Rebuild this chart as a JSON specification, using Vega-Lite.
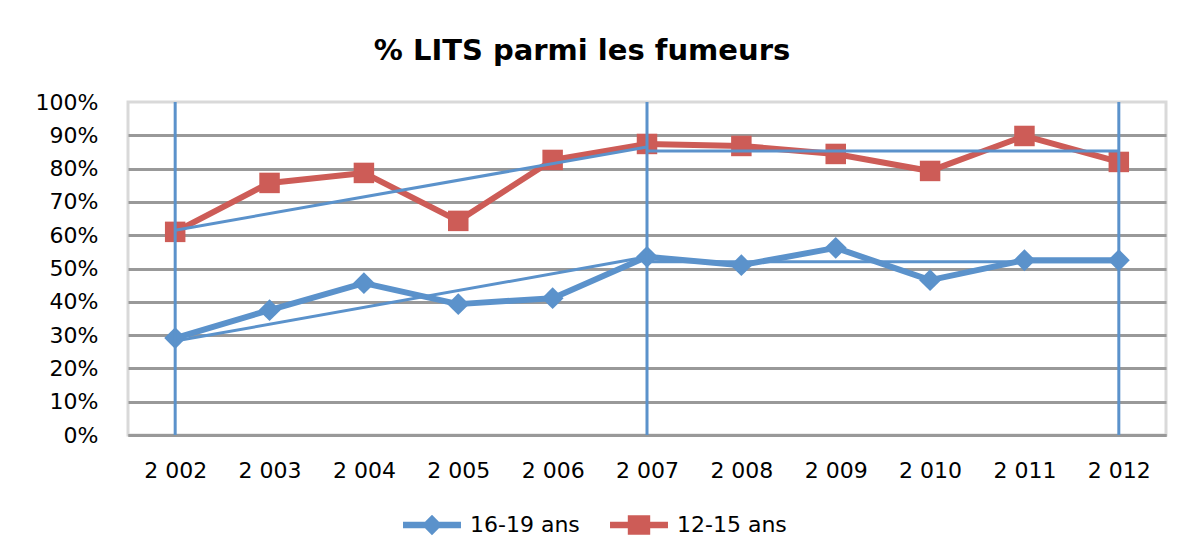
{
  "$schema": "https://vega.github.io/schema/vega-lite/v6.json",
  "width": 1038,
  "height": 333,
  "autosize": "none",
  "padding": {"left": 128, "top": 102, "right": 15, "bottom": 121},
  "background": "white",
  "title": {
    "text": "% LITS parmi les fumeurs",
    "font": "DejaVu Sans",
    "fontSize": 29,
    "fontWeight": "bold",
    "color": "black",
    "baseline": "alphabetic",
    "offset": 40,
    "dx": -65,
    "dy": 38
  },
  "config": {"view": {"stroke": "#d9d9d9", "strokeWidth": 3}},
  "datasets": {
    "main": [
      {"year": "2002", "series": "16-19 ans", "value": 0.291},
      {"year": "2003", "series": "16-19 ans", "value": 0.375},
      {"year": "2004", "series": "16-19 ans", "value": 0.456},
      {"year": "2005", "series": "16-19 ans", "value": 0.393},
      {"year": "2006", "series": "16-19 ans", "value": 0.411},
      {"year": "2007", "series": "16-19 ans", "value": 0.535},
      {"year": "2008", "series": "16-19 ans", "value": 0.51},
      {"year": "2009", "series": "16-19 ans", "value": 0.562},
      {"year": "2010", "series": "16-19 ans", "value": 0.465},
      {"year": "2011", "series": "16-19 ans", "value": 0.525},
      {"year": "2012", "series": "16-19 ans", "value": 0.525},
      {"year": "2002", "series": "12-15 ans", "value": 0.61},
      {"year": "2003", "series": "12-15 ans", "value": 0.757},
      {"year": "2004", "series": "12-15 ans", "value": 0.787},
      {"year": "2005", "series": "12-15 ans", "value": 0.643},
      {"year": "2006", "series": "12-15 ans", "value": 0.826},
      {"year": "2007", "series": "12-15 ans", "value": 0.874},
      {"year": "2008", "series": "12-15 ans", "value": 0.868},
      {"year": "2009", "series": "12-15 ans", "value": 0.844},
      {"year": "2010", "series": "12-15 ans", "value": 0.793},
      {"year": "2011", "series": "12-15 ans", "value": 0.898},
      {"year": "2012", "series": "12-15 ans", "value": 0.82}
    ],
    "trend": [
      {"seg": "r1", "year": "2002", "value": 0.615},
      {"seg": "r1", "year": "2007", "value": 0.865},
      {"seg": "r2", "year": "2007", "value": 0.853},
      {"seg": "r2", "year": "2012", "value": 0.853},
      {"seg": "b1", "year": "2002", "value": 0.282},
      {"seg": "b1", "year": "2007", "value": 0.535},
      {"seg": "b2", "year": "2007", "value": 0.52},
      {"seg": "b2", "year": "2012", "value": 0.52}
    ],
    "marks": [
      {"year": "2002"},
      {"year": "2007"},
      {"year": "2012"}
    ]
  },
  "encoding": {
    "x": {
      "field": "year",
      "type": "ordinal",
      "scale": {"type": "point", "padding": 0.5, "domain": ["2002","2003","2004","2005","2006","2007","2008","2009","2010","2011","2012"]},
      "axis": {
        "title": null,
        "labelAngle": 0,
        "labelExpr": "slice(datum.label,0,1) + ' ' + slice(datum.label,1)",
        "labelFont": "DejaVu Sans",
        "labelFontSize": 22,
        "labelColor": "black",
        "labelPadding": 25,
        "ticks": false,
        "domainColor": "#999999",
        "domainWidth": 3,
        "grid": false
      }
    }
  },
  "layer": [
    {
      "encoding": {
        "y": {
          "field": "value",
          "type": "quantitative",
          "scale": {"domain": [0, 1]},
          "axis": {
            "title": null,
            "values": [0, 0.1, 0.2, 0.3, 0.4, 0.5, 0.6, 0.7, 0.8, 0.9, 1],
            "format": ".0%",
            "labelOverlap": false,
            "labelFont": "DejaVu Sans",
            "labelFontSize": 22,
            "labelColor": "black",
            "labelPadding": 30,
            "ticks": false,
            "domain": false,
            "gridColor": "#999999",
            "gridOpacity": {"condition": {"test": "datum.value >= 0.99", "value": 0}, "value": 1},
            "gridWidth": 3
          }
        }
      },
      "layer": [
        {
          "data": {"name": "main"},
          "mark": {"type": "line", "strokeWidth": 6, "strokeJoin": "round"},
          "encoding": {
            "color": {
              "field": "series",
              "type": "nominal",
              "scale": {"domain": ["16-19 ans", "12-15 ans"], "range": ["#5B92CB", "#CD5C57"]},
              "legend": {
                "orient": "none",
                "legendX": 293,
                "legendY": 412,
                "direction": "horizontal",
                "title": null,
                "labelFont": "DejaVu Sans",
                "labelFontSize": 22,
                "labelColor": "black",
                "symbolSize": 196,
                "labelOffset": 27,
                "columnPadding": 30,
                "encode": {
                  "symbols": {
                    "update": {
                      "shape": {"signal": "datum.value === '16-19 ans' ? 'M-4.14,-0.45H4.14V0.45H-4.14Z M0,-1.45L1.45,0L0,1.45L-1.45,0Z' : 'M-4.14,-0.45H4.14V0.45H-4.14Z M-1.6,-1.4H1.6V1.4H-1.6Z'"},
                      "fill": {"signal": "datum.value === '16-19 ans' ? '#5B92CB' : '#CD5C57'"},
                      "stroke": {"value": "transparent"},
                      "strokeWidth": {"value": 0},
                      "size": {"value": 196}
                    }
                  }
                }
              }
            }
          }
        },
        {
          "data": {"name": "main"},
          "transform": [{"filter": "datum.series === '16-19 ans'"}],
          "mark": {"type": "point", "filled": true, "opacity": 1, "shape": "diamond", "color": "#5B92CB", "size": 480},
          "encoding": {}
        },
        {
          "data": {"name": "main"},
          "transform": [{"filter": "datum.series === '12-15 ans'"}],
          "mark": {"type": "point", "filled": true, "opacity": 1, "shape": "square", "color": "#CD5C57", "size": 420},
          "encoding": {}
        },
        {
          "data": {"name": "trend"},
          "mark": {"type": "line", "strokeWidth": 3, "color": "#5B92CB"},
          "encoding": {
            "detail": {"field": "seg", "type": "nominal"}
          }
        }
      ]
    },
    {
      "data": {"name": "marks"},
      "mark": {"type": "rule", "strokeWidth": 3, "color": "#5B92CB"},
      "encoding": {}
    }
  ]
}
